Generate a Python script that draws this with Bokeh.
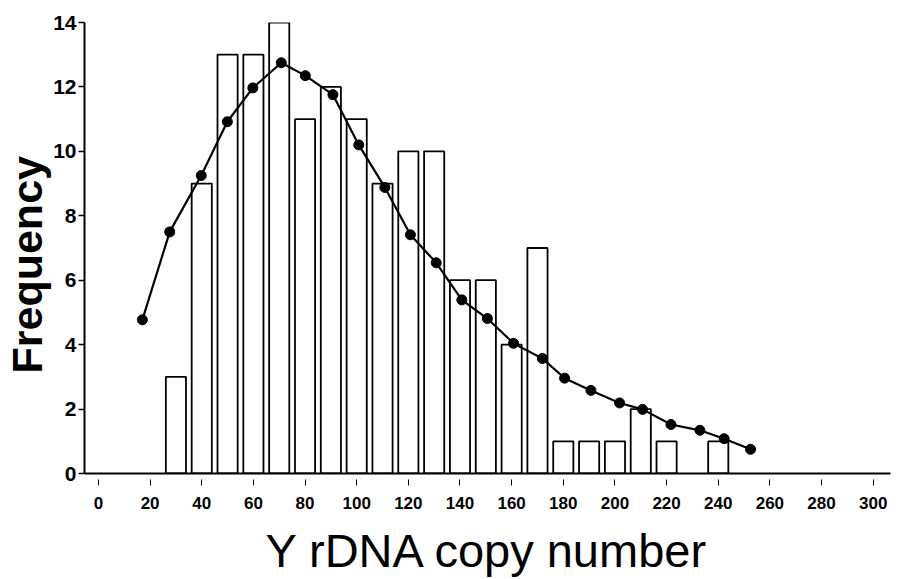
from bokeh.plotting import figure
from bokeh.models import Range1d, FixedTicker, Title
from bokeh.embed import file_html
from bokeh.resources import INLINE

# Histogram bars (bin centers and frequencies)
bin_centers = [30, 40, 50, 60, 70, 80, 90, 100, 110, 120, 130, 140, 150, 160, 170,
               180, 190, 200, 210, 220, 240]
bin_counts = [3, 9, 13, 13, 14, 11, 12, 11, 9, 10, 10, 6, 6, 4, 7,
              1, 1, 1, 2, 1, 1]

# Fitted distribution curve
curve_x = [17.0, 27.6, 39.8, 49.9, 59.8, 70.8, 80.1, 90.8, 100.8, 110.9, 120.8, 130.8,
           140.7, 150.6, 160.7, 171.9, 180.5, 190.7, 201.8, 210.7, 221.7, 232.9, 242.3, 252.5]
curve_y = [4.77, 7.50, 9.25, 10.92, 11.97, 12.75, 12.35, 11.76, 10.20, 8.88, 7.41, 6.54,
           5.39, 4.81, 4.04, 3.57, 2.96, 2.58, 2.19, 1.99, 1.52, 1.34, 1.08, 0.75]

x_ticks = list(range(0, 301, 20))
y_ticks = list(range(0, 15, 2))

p = figure(width=898, height=579, output_backend="svg", toolbar_location=None,
           x_range=Range1d(-5.4, 306.7), y_range=Range1d(0, 14),
           min_border_left=83, min_border_right=8, min_border_top=22, min_border_bottom=104)
p.outline_line_color = None
p.xgrid.visible = False
p.ygrid.visible = False
p.background_fill_color = "white"
p.border_fill_color = "white"

p.vbar(x=bin_centers, top=bin_counts, width=7.8, bottom=0,
       fill_color="white", line_color="black", line_width=1.8)
p.line(curve_x, curve_y, line_color="black", line_width=2.2)
p.scatter(curve_x, curve_y, size=10, fill_color="black", line_color="black")

font = "Liberation Sans"
xa = p.xaxis[0]
xa.ticker = FixedTicker(ticks=x_ticks)
xa.minor_tick_line_color = None
xa.axis_line_width = 2
xa.major_tick_in = -6
xa.major_tick_out = 12
xa.major_tick_line_width = 1
xa.major_label_text_font = font
xa.major_label_text_font_style = "bold"
xa.major_label_text_font_size = "17px"
xa.major_label_text_color = "black"
xa.major_label_standoff = 11
xa.axis_label = "Y rDNA copy number"
xa.axis_label_text_font = font
xa.axis_label_text_font_style = "normal"
xa.axis_label_text_font_size = "47px"
xa.axis_label_text_color = "black"
xa.axis_label_standoff = 12

ya = p.yaxis[0]
ya.ticker = FixedTicker(ticks=y_ticks)
ya.minor_tick_line_color = None
ya.axis_line_width = 2
ya.major_tick_in = 0
ya.major_tick_out = 6
ya.major_tick_line_width = 1.5
ya.major_label_text_font = font
ya.major_label_text_font_style = "bold"
ya.major_label_text_font_size = "21px"
ya.major_label_text_color = "black"
ya.major_label_standoff = 2

ytitle = Title(text="Frequency", align="left", offset=100, standoff=0,
               text_font=font, text_font_style="bold", text_font_size="43px",
               text_color="black")
p.add_layout(ytitle, "left")

open("out.html", "w").write(file_html(p, INLINE))
